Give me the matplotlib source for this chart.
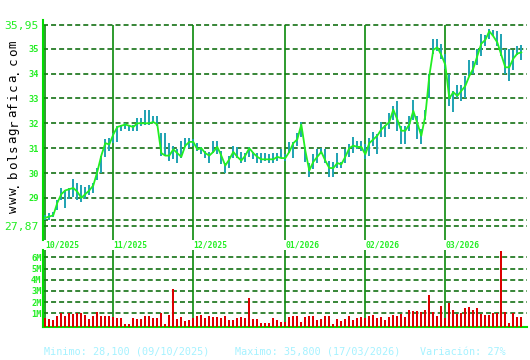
import matplotlib

matplotlib.use("Agg")
import matplotlib.pyplot as plt

W, H = 530, 360

# trading days per month, first month starts on 09/10/2025
MONTH_DAYS = [17, 20, 23, 20, 20, 20]
MONTH_LABELS = ["10/2025", "11/2025", "12/2025", "01/2026", "02/2026", "03/2026"]

CLOSE = [
    28.20, 28.25, 28.30, 28.80, 29.15, 29.30, 29.35, 29.40, 29.25, 29.00,
    29.15, 29.30, 29.50, 30.05, 30.70, 31.20, 31.15, 31.55, 31.85, 31.90,
    31.95, 31.90, 31.85, 32.00, 32.00, 32.00, 32.00, 32.05, 31.95, 30.80,
    30.70, 30.70, 30.95, 30.80, 30.65, 31.10, 31.25, 31.25, 30.95, 31.00,
    30.80, 30.70, 30.85, 31.05, 30.70, 30.30, 30.55, 30.85, 30.65, 30.50,
    30.70, 31.00, 30.80, 30.65, 30.55, 30.55, 30.55, 30.55, 30.65, 30.60,
    30.60, 30.85, 31.20, 31.35, 31.95, 30.90, 30.10, 30.45, 30.65, 30.85,
    30.50, 30.20, 30.20, 30.40, 30.35, 30.65, 31.00, 31.10, 31.05, 31.05,
    30.75, 31.20, 31.35, 31.50, 31.75, 31.90, 32.05, 32.55, 32.15, 31.70,
    31.70, 31.95, 32.50, 32.00, 31.50, 32.30, 33.90, 34.95, 35.05, 34.75,
    34.35, 33.00, 33.25, 33.10, 33.30, 33.50, 33.90, 34.20, 34.70, 35.20,
    35.35, 35.70, 35.50, 35.25, 34.75, 34.25, 34.25, 34.60, 34.80, 34.85,
]
HIGH = [
    28.30, 28.40, 28.45, 28.90, 29.40, 29.30, 29.40, 29.75, 29.60, 29.50,
    29.45, 29.50, 29.60, 30.20, 30.70, 31.35, 31.40, 31.60, 31.90, 31.95,
    32.00, 31.95, 31.95, 32.20, 32.20, 32.55, 32.55, 32.30, 32.30, 31.60,
    31.60, 31.20, 31.10, 30.95, 31.30, 31.40, 31.40, 31.35, 31.20, 31.05,
    30.90, 30.85, 31.30, 31.30, 30.90, 30.40, 30.70, 31.10, 31.05, 30.85,
    30.80, 31.05, 30.85, 30.80, 30.80, 30.80, 30.75, 30.80, 30.80, 30.95,
    30.75, 31.25, 31.25, 31.60, 32.05, 31.00, 30.40, 30.75, 30.95, 31.00,
    30.95, 30.50, 30.45, 30.80, 30.45, 30.95, 31.15, 31.45, 31.30, 31.30,
    31.15, 31.40, 31.65, 31.55, 32.05, 31.95, 32.40, 32.70, 32.90, 31.90,
    31.90, 32.30, 32.95, 32.30, 31.75, 32.55, 34.00, 35.40, 35.40, 35.20,
    34.80, 34.00, 33.30, 33.55, 33.55, 33.90, 34.55, 34.50, 35.00, 35.60,
    35.55, 35.80, 35.75, 35.70, 35.60, 35.00, 35.00, 34.95, 35.10, 35.15,
]
LOW = [
    28.10, 28.10, 28.25, 28.50, 28.90, 28.60, 28.95, 29.05, 28.90, 28.85,
    28.95, 29.10, 29.20, 29.70, 30.00, 30.65, 30.90, 31.20, 31.25, 31.70,
    31.75, 31.70, 31.70, 31.70, 31.90, 31.95, 31.95, 32.00, 31.90, 30.70,
    30.70, 30.50, 30.55, 30.40, 30.60, 31.05, 31.00, 31.10, 30.90, 30.75,
    30.60, 30.40, 30.80, 30.75, 30.35, 30.00, 30.20, 30.60, 30.60, 30.40,
    30.45, 30.65, 30.55, 30.40, 30.40, 30.50, 30.40, 30.40, 30.50, 30.60,
    30.50, 30.80, 30.60, 31.10, 31.45, 30.45, 29.85, 30.15, 30.40, 30.75,
    30.40, 29.85, 29.85, 30.20, 30.20, 30.40, 30.65, 30.80, 30.95, 30.90,
    30.55, 30.70, 31.10, 30.75, 31.45, 31.45, 31.75, 32.15, 31.70, 31.15,
    31.15, 31.70, 32.15, 31.35, 31.15, 32.15, 33.00, 34.80, 34.90, 34.60,
    34.20, 32.70, 32.45, 33.00, 32.90, 33.00, 33.90, 34.00, 34.35, 34.70,
    35.10, 35.40, 35.50, 35.10, 34.70, 34.00, 33.70, 34.15, 34.75, 34.55,
]
VOLUME_M = [
    0.60, 0.50, 0.40, 0.75, 1.00, 0.75, 1.00, 0.95, 1.00, 1.05,
    0.85, 0.50, 0.75, 1.10, 0.75, 0.75, 0.75, 0.70, 0.60, 0.60,
    0.05, 0.05, 0.60, 0.50, 0.50, 0.75, 0.75, 0.60, 0.60, 1.05,
    0.05, 0.85, 3.15, 0.50, 0.65, 0.30, 0.40, 0.55, 0.75, 0.85,
    0.55, 0.75, 0.65, 0.65, 0.55, 0.75, 0.40, 0.40, 0.55, 0.65,
    0.55, 2.35, 0.50, 0.50, 0.15, 0.15, 0.15, 0.55, 0.40, 0.25,
    0.25, 0.65, 0.75, 0.75, 0.20, 0.65, 0.75, 0.75, 0.40, 0.50,
    0.75, 0.75, 0.05, 0.50, 0.30, 0.50, 0.75, 0.40, 0.55, 0.65,
    0.55, 0.75, 0.85, 0.55, 0.65, 0.40, 0.65, 0.85, 0.75, 0.95,
    0.65, 1.30, 1.20, 1.20, 1.10, 1.30, 2.65, 1.10, 0.75, 1.65,
    0.55, 1.90, 1.30, 0.95, 1.05, 1.45, 1.55, 1.30, 1.45, 0.95,
    0.85, 0.85, 1.05, 1.05, 6.60, 1.10, 0.10, 1.05, 0.65, 0.65,
]

PRICE_TOP = 35.95
PRICE_BOTTOM = 27.87
PRICE_MIN = 28.10
PRICE_TICKS = [35, 34, 33, 32, 31, 30, 29]
VOLUME_TICKS = [1, 2, 3, 4, 5, 6]
SITE = "www.bolsagrafica.com"
FOOTER = [
    "Minimo: 28,100 (09/10/2025)",
    "Maximo: 35,800 (17/03/2026)",
    "Variación: 27%",
]

LIME = "#22ee22"
AXIS_GREEN = "#00dd00"
MONTH_GREEN = "#0a8a0a"
GRID_GREEN = "#006400"
TEAL = "#1ea2b2"
RED = "#dd0000"
CYAN = "#a6f2ff"
MONO = "DejaVu Sans Mono"

plt.rcParams["lines.scale_dashes"] = False
DASH = (0, (3.6, 2.2))


def box(left, top, right, bottom):
    return [left / W, 1 - bottom / H, (right - left) / W, (bottom - top) / H]


def style_axes(ax, spines):
    for name, sp in ax.spines.items():
        sp.set_visible(name in spines)
        sp.set_color(AXIS_GREEN)
        sp.set_linewidth(1.5)
    ax.set_facecolor("white")


def main():
    fig = plt.figure(figsize=(W / 100, H / 100), dpi=100)
    fig.patch.set_facecolor("white")

    days = list(range(len(CLOSE)))
    starts = [sum(MONTH_DAYS[:k]) for k in range(len(MONTH_DAYS))]
    x0, px_day = 45.3, 4.0
    xlim = (-(x0 - 43) / px_day, (527 - x0) / px_day)

    # price panel: 35.95 at y=25px, 27.87 at y=226px
    ax = fig.add_axes(box(43, 20, 527, 240))
    style_axes(ax, ["left"])
    ppx = (226 - 25) / (PRICE_TOP - PRICE_BOTTOM)
    ax.set_ylim(PRICE_BOTTOM - 14 / ppx, PRICE_TOP + 5 / ppx)
    ax.set_xlim(*xlim)
    for level in [PRICE_TOP] + PRICE_TICKS + [PRICE_MIN, PRICE_BOTTOM]:
        ax.axhline(level, color=GRID_GREEN, lw=1.1, linestyle=DASH, zorder=1)
    ax.vlines(starts, ax.get_ylim()[0], PRICE_TOP, color=MONTH_GREEN, lw=1.2, zorder=2)
    ax.vlines(days, LOW, HIGH, color=TEAL, lw=1.4, zorder=3)
    ax.plot(days, CLOSE, color=LIME, lw=1.3, zorder=4)

    ticks = [PRICE_TOP] + PRICE_TICKS + [PRICE_BOTTOM]
    labels = ["35,95"] + [str(t) for t in PRICE_TICKS] + ["27,87"]
    ax.set_yticks(ticks, labels, family=MONO, color=LIME, fontsize=6.2, fontweight="bold")
    for lab in (ax.get_yticklabels()[0], ax.get_yticklabels()[-1]):
        lab.set_fontsize(8.2)
        lab.set_fontweight("normal")
    ax.tick_params(axis="y", length=0, pad=3)
    ax.set_xticks(starts, MONTH_LABELS, family=MONO, color=LIME, fontsize=5.8,
                  fontweight="bold", ha="left")
    ax.tick_params(axis="x", length=0, pad=0.5)

    # volume panel
    vx = fig.add_axes(box(43, 250, 527, 326.5))
    style_axes(vx, ["left", "bottom"])
    vpx = 11.2
    vbot = -2.0 / vpx
    vx.set_ylim(vbot, (324.5 - 250) / vpx)
    vx.set_xlim(*xlim)
    for level in VOLUME_TICKS:
        vx.axhline(level, color=GRID_GREEN, lw=1.1, linestyle=DASH, zorder=1)
    vx.vlines(starts, vbot, vx.get_ylim()[1], color=MONTH_GREEN, lw=1.2, zorder=2)
    vx.bar(days, [v - vbot for v in VOLUME_M], bottom=vbot, width=0.5,
           color=RED, linewidth=0, zorder=3)
    vx.set_yticks(VOLUME_TICKS, [f"{t}M" for t in VOLUME_TICKS], family=MONO,
                  color=LIME, fontsize=6.2, fontweight="bold")
    vx.tick_params(axis="y", length=0, pad=1)
    vx.set_xticks([])

    # spaced-out site name, read bottom to top
    step = (209 - 44) / (len(SITE) - 1)
    for k, ch in enumerate(SITE):
        fig.text(16.7 / W, 1 - (209 - k * step) / H, ch, rotation=90,
                 rotation_mode="anchor", family=MONO, fontsize=9, color="black",
                 ha="center", va="baseline")
    for x, txt in zip([44, 235, 420], FOOTER):
        fig.text(x / W, 1 - 352 / H, txt, family=MONO, fontsize=7.3,
                 color=CYAN, ha="left", va="center")

    fig.savefig("out.png", dpi=100, facecolor=fig.get_facecolor())
    plt.close(fig)


if __name__ == "__main__":
    main()
